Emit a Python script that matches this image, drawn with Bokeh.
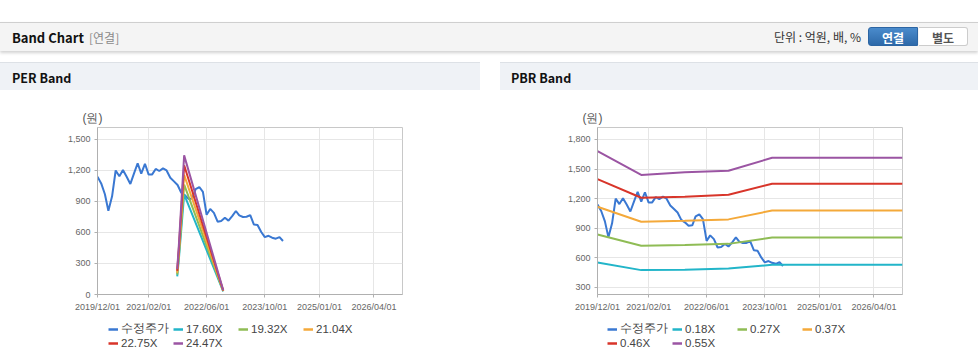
import pandas as pd
from bokeh.plotting import figure
from bokeh.models import (Range1d, FixedTicker, DatetimeTickFormatter, NumeralTickFormatter,
                          Legend, LegendItem, Div, Spacer, ColumnDataSource)
from bokeh.layouts import column, row
from bokeh.embed import file_html
from bokeh.resources import INLINE

# ---------------- data ----------------
price_dates = [
    "2019-12-01",
    "2020-01-01", "2020-02-01", "2020-03-01", "2020-04-01", "2020-05-01", "2020-06-01",
    "2020-07-01", "2020-08-01", "2020-09-01", "2020-10-01", "2020-11-01", "2020-12-01",
    "2021-01-01", "2021-02-01", "2021-03-01", "2021-04-01", "2021-05-01", "2021-06-01",
    "2021-07-01", "2021-08-01", "2021-09-01", "2021-10-01", "2021-11-01", "2021-12-01",
    "2022-01-01", "2022-02-01", "2022-03-01", "2022-04-01", "2022-05-01", "2022-06-01",
    "2022-07-01", "2022-08-01", "2022-09-01", "2022-10-01", "2022-11-01", "2022-12-01",
    "2023-01-01", "2023-02-01", "2023-03-01", "2023-04-01", "2023-05-01", "2023-06-01",
    "2023-07-01", "2023-08-01", "2023-09-01", "2023-10-01", "2023-11-01", "2023-12-01",
    "2024-01-01", "2024-02-01", "2024-03-01",
]
price = [1140, 1075, 970, 810, 950, 1200, 1145, 1205, 1140, 1070, 1170, 1270, 1170,
         1265, 1160, 1160, 1215, 1195, 1220, 1200, 1130, 1095, 1060, 985, 960,
         925, 930, 1020, 1040, 993, 772, 828, 790, 705, 711, 742, 715,
         758, 808, 765, 750, 752, 768, 678, 672, 605, 555, 568, 550,
         540, 556, 518]

per_dates = ["2021-09-28", "2021-10-12", "2021-11-25", "2022-10-18"]
per_labels = ["17.60X", "19.32X", "21.04X", "22.75X", "24.47X"]
per_1760 = [176, 345, 968, 30]
per_1932 = [193, 379, 1063, 33]
per_2104 = [210, 413, 1157, 36]
per_2275 = [228, 446, 1251, 39]
per_2447 = [245, 480, 1346, 42]

pbr_dates = ["2019-12-01", "2020-12-01", "2021-12-01", "2022-12-01", "2023-12-01", "2026-11-26"]
pbr_labels = ["0.18X", "0.27X", "0.37X", "0.46X", "0.55X"]
pbr_018 = [553, 476, 479, 492, 530, 530]
pbr_027 = [837, 722, 730, 742, 807, 807]
pbr_037 = [1118, 966, 975, 990, 1080, 1080]
pbr_046 = [1398, 1209, 1220, 1240, 1351, 1351]
pbr_055 = [1682, 1440, 1468, 1482, 1614, 1614]

x_tick_labels = ["2019/12/01", "2021/02/01", "2022/06/01", "2023/10/01", "2025/01/01", "2026/04/01"]
per_y_ticks = [0, 300, 600, 900, 1200, 1500]
pbr_y_ticks = [300, 600, 900, 1200, 1500, 1800]
x_start, x_end = "2019-12-01", "2026-11-26"
unit_label = "(원)"
price_label = "수정주가"

price_color = "#3a78d2"
band_colors = ["#22b5c9", "#8fbc55", "#f4a93a", "#d8352a", "#9b55a3"]
FONT = "Liberation Sans"

# ---------------- helpers ----------------
def ms(s):
    return pd.Timestamp(s.replace("/", "-")).value / 1e6

fmt = "%Y/%m/%d"

def make_fig(width, right_border, y0, y1, yticks, band_dates, bands):
    p = figure(width=width, height=228, x_axis_type="datetime",
               x_range=Range1d(pd.Timestamp(x_start), pd.Timestamp(x_end)),
               y_range=Range1d(y0, y1),
               output_backend="svg", toolbar_location=None,
               min_border_left=97, min_border_right=right_border,
               min_border_top=36, min_border_bottom=25)
    p.background_fill_color = "white"
    p.border_fill_color = "white"
    p.outline_line_color = "#c8c8c8"

    p.title.text = unit_label
    p.title.align = "left"
    p.title.offset = -15
    p.title.standoff = 6
    p.title.text_font = FONT
    p.title.text_font_size = "12px"
    p.title.text_font_style = "normal"
    p.title.text_color = "#555555"

    xt = FixedTicker(ticks=[ms(s) for s in x_tick_labels])
    yt = FixedTicker(ticks=yticks)
    p.xaxis.ticker = xt
    p.xgrid.ticker = xt
    p.yaxis.ticker = yt
    p.ygrid.ticker = yt
    p.xaxis.formatter = DatetimeTickFormatter(
        milliseconds=fmt, seconds=fmt, minsec=fmt, minutes=fmt, hourmin=fmt,
        hours=fmt, days=fmt, months=fmt, years=fmt)
    p.yaxis.formatter = NumeralTickFormatter(format="0,0")
    for ax in (p.xaxis[0], p.yaxis[0]):
        ax.axis_line_color = "#b0b0b0"
        ax.major_tick_line_color = "#b0b0b0"
        ax.major_tick_out = 3
        ax.major_tick_in = 0
        ax.minor_tick_line_color = None
        ax.major_label_text_font = FONT
        ax.major_label_text_font_size = "9px"
        ax.major_label_text_color = "#666666"
        ax.major_label_standoff = 4
    p.xgrid.grid_line_color = "#e6e6e6"
    p.ygrid.grid_line_color = "#e6e6e6"

    src = ColumnDataSource(dict(x=pd.to_datetime(price_dates), y=price))
    p.line("x", "y", source=src, line_color=price_color, line_width=2)
    bx = pd.to_datetime(band_dates)
    for vals, col in zip(bands, band_colors):
        p.line(bx, vals, line_color=col, line_width=2)
    return p

def make_legend(width, labels, x_off):
    # legend-only strip; its frame is aligned with the chart frame above
    q = figure(width=width, height=43, x_range=Range1d(0, 1), y_range=Range1d(0, 1),
               output_backend="svg", toolbar_location=None,
               min_border_left=0, min_border_right=0, min_border_top=0, min_border_bottom=0)
    q.axis.visible = False
    q.grid.visible = False
    q.outline_line_color = None
    q.background_fill_color = "white"
    q.border_fill_color = "white"
    items = []
    hidden_x, hidden_y = [-5, -4], [-5, -4]   # outside the visible range: legend keys only
    r0 = q.line(hidden_x, hidden_y, line_color=price_color, line_width=2.5)
    items.append(LegendItem(label=price_label, renderers=[r0]))
    for lab, col in zip(labels, band_colors):
        r = q.line(hidden_x, hidden_y, line_color=col, line_width=2.5)
        items.append(LegendItem(label=lab, renderers=[r]))
    legend = Legend(items=items, location=(x_off, 12), orientation="horizontal", ncols=4,
                    glyph_width=10, glyph_height=14, label_height=14, label_width=52,
                    label_standoff=3, spacing=0, padding=0, margin=0,
                    border_line_color=None, background_fill_alpha=0,
                    label_text_font=FONT, label_text_font_size="11.5px",
                    label_text_color="#444444")
    q.add_layout(legend, "center")
    return q

per = make_fig(480, 78, 0, 1616, per_y_ticks, per_dates,
               [per_1760, per_1932, per_2104, per_2275, per_2447])
pbr = make_fig(478, 76, 229, 1921, pbr_y_ticks, pbr_dates,
               [pbr_018, pbr_027, pbr_037, pbr_046, pbr_055])
per_leg = make_legend(480, per_labels, 11)
pbr_leg = make_legend(478, pbr_labels, 10)

header_html = """
<div style="position:relative;width:978px;height:91px;font-family:'Noto Sans CJK KR','Liberation Sans',sans-serif;">
  <div style="position:absolute;left:0;top:22px;width:978px;height:29px;background:#f4f4f4;border-top:1px solid #cfcfcf;box-shadow:0 2px 3px rgba(0,0,0,0.18);"></div>
  <span style="position:absolute;left:12px;top:29px;line-height:18px;font-size:13px;font-weight:bold;color:#111;">Band Chart</span>
  <span style="position:absolute;left:89px;top:29px;line-height:18px;font-size:12px;color:#8a8a8a;">[연결]</span>
  <span style="position:absolute;right:117px;top:28px;line-height:18px;font-size:12px;color:#333;">단위 : 억원, 배, %</span>
  <div style="position:absolute;left:868px;top:27px;width:50px;height:19px;line-height:19px;text-align:center;font-size:12px;font-weight:bold;color:#fff;background:linear-gradient(#4a8bcc,#2d69a9);border:1px solid #2c65a3;border-radius:3px 0 0 3px;">연결</div>
  <div style="position:absolute;left:919px;top:27px;width:49px;height:19px;line-height:19px;text-align:center;font-size:12px;font-weight:bold;color:#555;background:#fff;border:1px solid #cccccc;border-left:none;border-radius:0 3px 3px 0;">별도</div>
  <div style="position:absolute;left:0;top:62px;width:480px;height:28px;background:#eff2f6;border-top:1px solid #dde1e6;"></div>
  <span style="position:absolute;left:12px;top:69px;line-height:18px;font-size:12.5px;font-weight:bold;color:#111;">PER Band</span>
  <div style="position:absolute;left:500px;top:62px;width:478px;height:28px;background:#eff2f6;border-top:1px solid #dde1e6;"></div>
  <span style="position:absolute;left:511px;top:69px;line-height:18px;font-size:12.5px;font-weight:bold;color:#111;">PBR Band</span>
</div>
"""
header = Div(text=header_html, width=978, height=91, margin=0)

layout = column(header, row(column(per, per_leg), Spacer(width=20, height=271),
                            column(pbr, pbr_leg)))

open("out.html", "w").write(file_html(layout, INLINE))
